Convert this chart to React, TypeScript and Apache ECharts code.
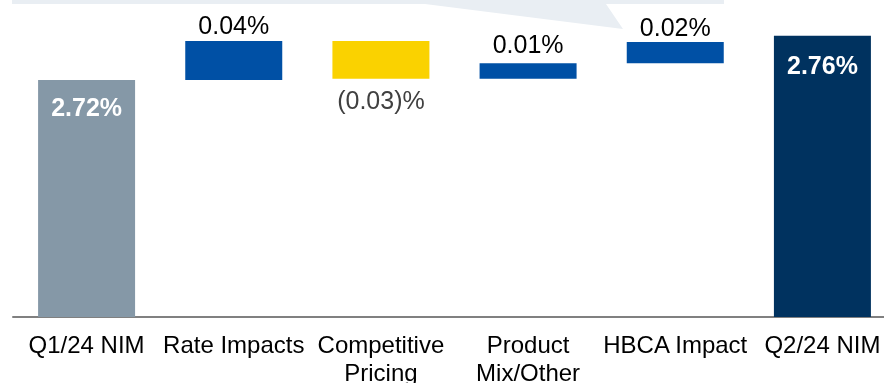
import React, { useEffect, useRef } from 'react';
import * as echarts from 'echarts';

const categories = ['Q1/24 NIM', 'Rate Impacts', 'Competitive\nPricing', 'Product\nMix/Other', 'HBCA Impact', 'Q2/24 NIM'];
const startNim = 2.72;
const endNim = 2.76;
const deltas = [0.0352, -0.034, 0.014, 0.019];

const FONT = '"Liberation Sans", Arial, Helvetica, sans-serif';
const C_START = '#8598A7';
const C_END = '#00325F';
const C_UP = '#0050A5';
const C_DOWN = '#FAD200';

export default function App() {
  const ref = useRef<HTMLDivElement>(null);
  useEffect(() => {
    const chart = echarts.init(ref.current!, null, { renderer: 'svg' });
    const base: number[] = [0];
    const heights: any[] = [];
    heights.push({
      value: startNim,
      itemStyle: { color: C_START },
      label: { show: true, position: 'insideTop', distance: 15, color: '#fff', fontWeight: 'bold', fontSize: 25, fontFamily: FONT, formatter: `${startNim.toFixed(2)}%` },
    });
    let level = startNim;
    deltas.forEach((d, i) => {
      const next = level + d;
      base.push(Math.min(level, next));
      const up = d >= 0;
      heights.push({
        value: Math.abs(d),
        itemStyle: { color: up ? C_UP : C_DOWN },
        label: up
          ? { show: true, position: 'top', distance: i === 2 ? 7 : 3, color: '#000', fontSize: 25, fontFamily: FONT, formatter: `${d.toFixed(2)}%` }
          : { show: true, position: 'bottom', distance: 9, color: '#404040', fontSize: 25, fontFamily: FONT, formatter: `(${Math.abs(d).toFixed(2)})%` },
      });
      level = next;
    });
    base.push(0);
    heights.push({
      value: endNim,
      itemStyle: { color: C_END },
      label: { show: true, position: 'insideTop', distance: 17, color: '#fff', fontWeight: 'bold', fontSize: 25, fontFamily: FONT, formatter: `${endNim.toFixed(2)}%` },
    });

    chart.setOption({
      animation: false,
      grid: { left: 13, width: 883, top: 0, bottom: 66, containLabel: false, outerBoundsMode: 'none' },
      xAxis: {
        type: 'category',
        data: categories,
        axisTick: { show: false },
        axisLine: { show: true, lineStyle: { color: '#808080', width: 2 } },
        axisLabel: { interval: 0, fontSize: 24, lineHeight: 28, color: '#000', fontFamily: FONT, margin: 13 },
      },
      yAxis: {
        type: 'value',
        min: 2.506,
        max: 2.7922,
        show: false,
        splitLine: { show: false },
      },
      graphic: [
        {
          type: 'polygon',
          z: -1,
          shape: { points: [[12, 0], [724, 0], [724, 4], [606, 4], [623, 29], [425, 4], [12, 4]] },
          style: { fill: '#E9EEF3' },
        },
      ],
      series: [
        {
          type: 'bar',
          stack: 'w',
          data: base,
          barWidth: 97,
          itemStyle: { color: 'transparent' },
          silent: true,
        },
        {
          type: 'bar',
          stack: 'w',
          data: heights,
          barWidth: 97,
          clip: true,
        },
      ],
    });
    return () => chart.dispose();
  }, []);
  return <div ref={ref} style={{ position: 'fixed', left: 0, top: 0, width: 884, height: 383 }} />;
}
